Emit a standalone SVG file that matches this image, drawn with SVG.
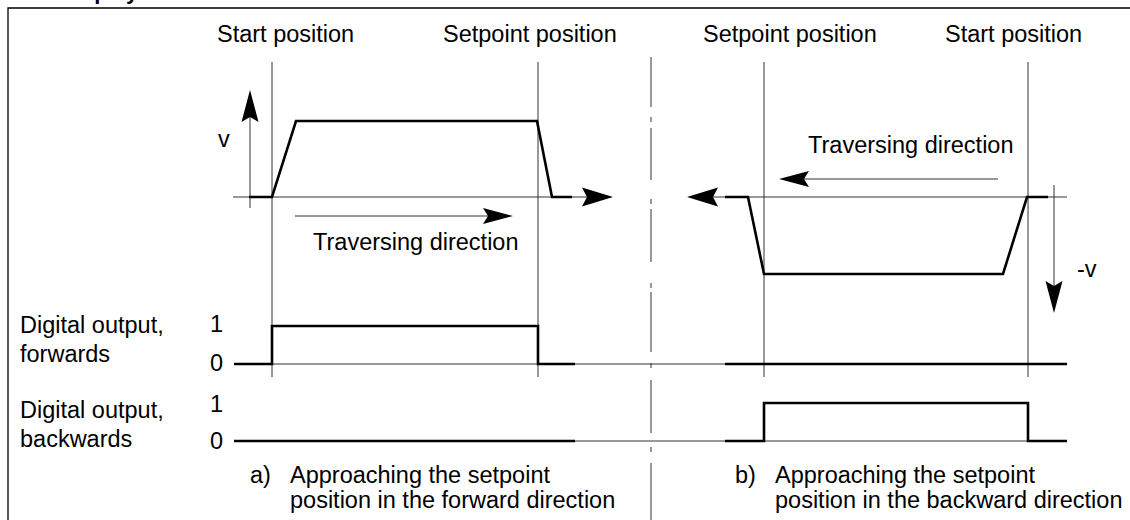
<svg xmlns="http://www.w3.org/2000/svg" width="1130" height="520" viewBox="0 0 1130 520">
  <style>
    text { font-family: "Liberation Sans", Arial, sans-serif; font-size: 23.5px; fill: #000; }
    .title { font-weight: bold; font-size: 22px; }
    .thin { stroke: #333; stroke-width: 1; fill: none; }
    .thick { stroke: #000; stroke-width: 2.6; fill: none; stroke-linejoin: miter; }
    .head { fill: #000; stroke: none; }
  </style>
  <rect width="1130" height="520" fill="#fff"/>

  <!-- heading, clipped by the top edge -->
  <text class="title" x="60" y="-1">Display</text>

  <!-- frame -->
  <path d="M8,520 V8 H1130" stroke="#000" stroke-width="1.3" fill="none"/>

  <!-- position labels -->
  <g id="labels-top">
    <text x="217" y="42">Start position</text>
    <text x="443" y="42">Setpoint position</text>
    <text x="703" y="42">Setpoint position</text>
    <text x="945" y="42">Start position</text>
  </g>

  <!-- position markers -->
  <g id="markers">
    <line class="thin" x1="272" y1="62" x2="272" y2="377"/>
    <line class="thin" x1="538" y1="62" x2="538" y2="377"/>
    <line class="thin" x1="764" y1="62" x2="764" y2="377"/>
    <line class="thin" x1="1028" y1="62" x2="1028" y2="377"/>
  </g>

  <!-- centre line -->
  <path id="centre-line" class="thin" stroke="#000" d="M651,57 V107 M651,117 V122 M651,128 V180 M651,199 V204 M651,209 V262 M651,283 V288 M651,292 V352 M651,363 V368 M651,380 V433 M651,447 V452 M651,463 V520"/>

  <!-- forward velocity diagram -->
  <g id="forward-velocity">
    <line class="thin" x1="250" y1="208" x2="250" y2="110"/>
    <path class="head" d="M250,90 L258.5,122 L250,117 L241.5,122 Z"/>
    <text x="218" y="147">v</text>
    <line class="thin" x1="233" y1="197" x2="595" y2="197"/>
    <path class="head" d="M613,197 L582,206.5 L587,197 L582,187.5 Z"/>
    <polyline class="thick" points="249,197 272,197 296,121 537,121 552,197 572,197"/>
    <line class="thin" x1="295" y1="216" x2="495" y2="216"/>
    <path class="head" d="M513,216 L483,224 L488,216 L483,208 Z"/>
    <text x="313" y="250">Traversing direction</text>
  </g>

  <!-- backward velocity diagram -->
  <g id="backward-velocity">
    <line class="thin" x1="705" y1="197" x2="1067" y2="197"/>
    <path class="head" d="M687,197 L718,187.5 L713,197 L718,206.5 Z"/>
    <polyline class="thick" points="725,197 748,197 764,274 1003,274 1027,197 1048,197"/>
    <line class="thin" x1="1054" y1="185" x2="1054" y2="295"/>
    <path class="head" d="M1054,313 L1045.5,281 L1054,286 L1062.5,281 Z"/>
    <text x="1077" y="277">-v</text>
    <line class="thin" x1="795" y1="179" x2="998" y2="179"/>
    <path class="head" d="M779,179 L809,171 L804,179 L809,187 Z"/>
    <text x="808" y="153">Traversing direction</text>
  </g>

  <!-- digital output, forwards -->
  <g id="output-forwards">
    <text x="20" y="333">Digital output,</text>
    <text x="20" y="362">forwards</text>
    <text x="210" y="332">1</text>
    <text x="210" y="371">0</text>
    <line class="thin" x1="234" y1="364" x2="1067" y2="364"/>
    <polyline class="thick" points="234,364 272,364 272,326 538,326 538,364 575,364"/>
    <line class="thick" x1="725" y1="364" x2="1067" y2="364"/>
  </g>

  <!-- digital output, backwards -->
  <g id="output-backwards">
    <text x="20" y="418">Digital output,</text>
    <text x="20" y="447">backwards</text>
    <text x="210" y="412">1</text>
    <text x="210" y="449">0</text>
    <line class="thin" x1="234" y1="441" x2="1067" y2="441"/>
    <line class="thick" x1="234" y1="441" x2="575" y2="441"/>
    <polyline class="thick" points="725,441 764,441 764,403 1028,403 1028,441 1067,441"/>
  </g>

  <!-- captions -->
  <g id="caption-a">
    <text x="250" y="483">a)</text>
    <text x="290" y="483">Approaching the setpoint</text>
    <text x="290" y="508">position in the forward direction</text>
  </g>
  <g id="caption-b">
    <text x="735" y="483">b)</text>
    <text x="775" y="483">Approaching the setpoint</text>
    <text x="775" y="508">position in the backward direction</text>
  </g>
</svg>
